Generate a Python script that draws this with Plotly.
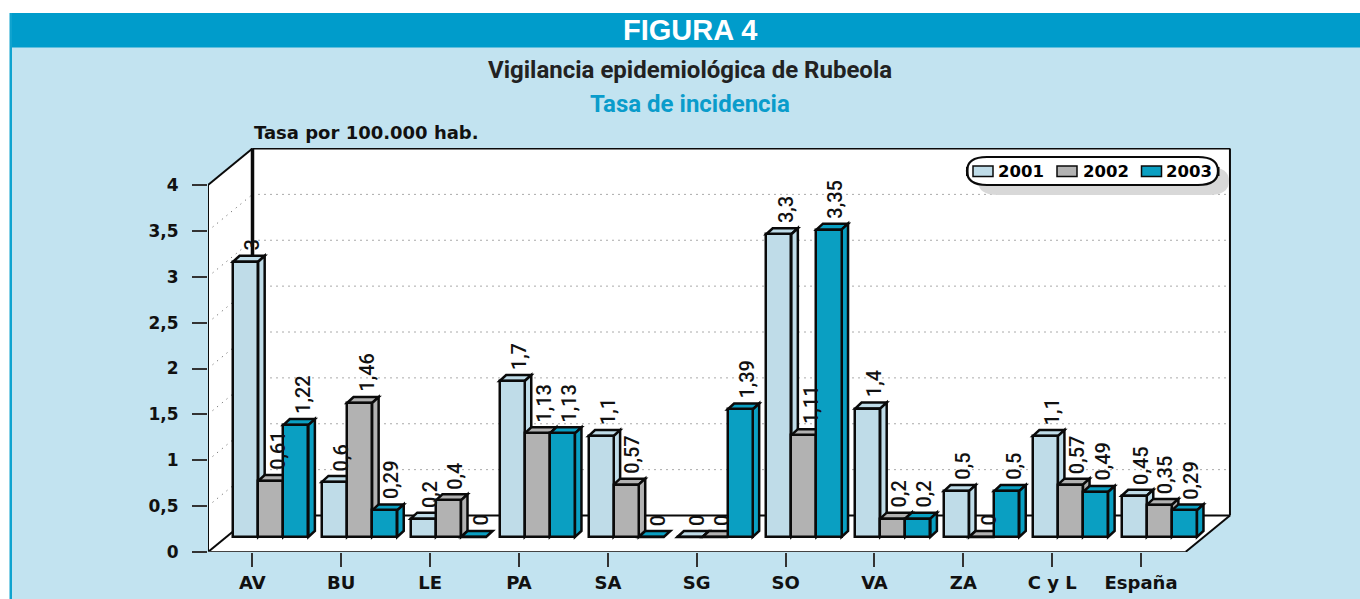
import plotly.graph_objects as go

categories = ["AV", "BU", "LE", "PA", "SA", "SG", "SO", "VA", "ZA", "C y L", "España"]
series_names = ["2001", "2002", "2003"]
v2001 = [3, 0.6, 0.2, 1.7, 1.1, 0, 3.3, 1.4, 0.5, 1.1, 0.45]
v2002 = [0.61, 1.46, 0.4, 1.13, 0.57, 0, 1.11, 0.2, 0, 0.57, 0.35]
v2003 = [1.22, 0.29, 0, 1.13, 0, 1.39, 3.35, 0.2, 0.5, 0.49, 0.29]
y_ticks = [0, 0.5, 1, 1.5, 2, 2.5, 3, 3.5, 4]
y_tick_labels = ["0", "0,5", "1", "1,5", "2", "2,5", "3", "3,5", "4"]
colors = ["#BFDCE8", "#B2B2B2", "#0A9FC2"]

W, H = 1360, 599
L, T, R, B = 208, 148, 1232, 552
PX_X, PX_Y = 88.86, 91.75


def xd(px):
    return -0.5 + (px - L) / PX_X


def yd(py):
    return (B - py) / PX_Y


def xp(px):
    return (px - L) / (R - L)


def yp(py):
    return (B - py) / (B - T)


WALL_DX, WALL_DY = 44.5 / PX_X, 36.5 / PX_Y
SHIFT_X, SHIFT_Y = 18.3 / PX_X, 15 / PX_Y
BAR_W = 25.1 / PX_X
DEPTH_X, DEPTH_Y = 6.5 / PX_X, 6 / PX_Y
X_MIN, X_MAX = -0.5, len(categories) - 0.5
INK = "#0A0A0A"
NUM_FONT = dict(family="Roboto, Liberation Sans, Arial", size=20, color="#111111", weight=500)
BOLD = "DejaVu Sans"
TITLE = "Roboto, Liberation Sans, Arial"


def poly(points, fill, lw=2.5, line=INK):
    path = "M " + " L ".join(f"{x:.4f},{y:.4f}" for x, y in points) + " Z"
    return dict(type="path", path=path, xref="x", yref="y", fillcolor=fill,
                line=dict(color=line, width=lw), layer="below")


def seg(x0, y0, x1, y1, color=INK, width=2, dash="solid"):
    return dict(type="line", x0=x0, y0=y0, x1=x1, y1=y1, xref="x", yref="y",
                line=dict(color=color, width=width, dash=dash), layer="below")


shapes = []
# page
shapes.append(dict(type="rect", xref="paper", yref="paper", x0=xp(10), x1=xp(W + 5), y0=yp(13), y1=yp(H + 5),
                   fillcolor="#C2E3F0", line_width=0, layer="below"))
shapes.append(dict(type="rect", xref="paper", yref="paper", x0=xp(10), x1=xp(W + 5), y0=yp(13), y1=yp(47.5),
                   fillcolor="#009CCB", line_width=0, layer="below"))
shapes.append(dict(type="rect", xref="paper", yref="paper", x0=xp(9.5), x1=xp(12), y0=yp(13), y1=yp(H + 5),
                   fillcolor="#0FA3CF", line_width=0, layer="below"))

# walls and floor
bx0, bx1 = X_MIN + WALL_DX, X_MAX + WALL_DX
shapes.append(poly([(X_MIN, 0), (X_MIN, 4), (bx0, 4 + WALL_DY), (bx1, 4 + WALL_DY), (bx1, WALL_DY),
                    (X_MAX, 0)], "#FFFFFF", lw=0))
for t in y_ticks[1:-1]:
    shapes.append(seg(X_MIN, t, bx0, t + WALL_DY, color="#555555", width=1, dash="1px,5px"))
    shapes.append(seg(bx0, t + WALL_DY, bx1, t + WALL_DY, color="#555555", width=1, dash="1px,5px"))
shapes.append(seg(bx0, WALL_DY, bx1, WALL_DY))
shapes.append(seg(bx1, WALL_DY, bx1, 4 + WALL_DY))
shapes.append(seg(bx0, 4 + WALL_DY, bx1, 4 + WALL_DY))
shapes.append(seg(bx0, WALL_DY, bx0, 4 + WALL_DY, width=3.5))
shapes.append(seg(X_MIN, 0, X_MIN, 4))
shapes.append(seg(X_MIN, 4, bx0, 4 + WALL_DY))
shapes.append(seg(X_MIN, 0, bx0, WALL_DY))
shapes.append(seg(X_MAX, 0, bx1, WALL_DY))
shapes.append(seg(X_MIN, 0, X_MAX, 0, color="#444444"))

all_values = [v2001, v2002, v2003]
traces = []
annotations = []
for j, vals in enumerate(all_values):
    xs = [i + SHIFT_X + (j - 1) * BAR_W for i in range(len(categories))]
    for xc, v in zip(xs, vals):
        xl, xr = xc - BAR_W / 2, xc + BAR_W / 2
        top = SHIFT_Y + v
        shapes.append(poly([(xl, top), (xl + DEPTH_X, top + DEPTH_Y), (xr + DEPTH_X, top + DEPTH_Y), (xr, top)],
                           colors[j]))
        if v > 0:
            shapes.append(poly([(xr, top), (xr + DEPTH_X, top + DEPTH_Y), (xr + DEPTH_X, SHIFT_Y + DEPTH_Y),
                                (xr, SHIFT_Y)], colors[j]))
        annotations.append(dict(x=xc + DEPTH_X, y=top + DEPTH_Y, xref="x", yref="y", text=str(v).replace(".", ","),
                                textangle=-90, showarrow=False, xanchor="center", yanchor="bottom", yshift=4,
                                font=NUM_FONT, borderpad=0))
    traces.append(go.Bar(x=xs, y=vals, base=[SHIFT_Y] * len(vals), width=BAR_W, name=series_names[j],
                         marker=dict(color=colors[j], line=dict(color=INK, width=2.5)), showlegend=False,
                         cliponaxis=False))

# legend
LEG_X0, LEG_X1, LEG_Y0, LEG_Y1 = 967, 1218, 157, 185


def pill(dx, dy, fill, lw, line):
    x0, x1, y0, y1 = xd(LEG_X0 + dx), xd(LEG_X1 + dx), yd(LEG_Y0 + dy), yd(LEG_Y1 + dy)
    rx = 20 / PX_X
    ym = (y0 + y1) / 2
    path = (f"M {x0 + rx:.4f},{y0:.4f} L {x1 - rx:.4f},{y0:.4f} Q {x1:.4f},{y0:.4f} {x1:.4f},{ym:.4f} "
            f"Q {x1:.4f},{y1:.4f} {x1 - rx:.4f},{y1:.4f} L {x0 + rx:.4f},{y1:.4f} "
            f"Q {x0:.4f},{y1:.4f} {x0:.4f},{ym:.4f} Q {x0:.4f},{y0:.4f} {x0 + rx:.4f},{y0:.4f} Z")
    return dict(type="path", path=path, xref="x", yref="y", fillcolor=fill, line=dict(color=line, width=lw),
                layer="below")


shapes.append(pill(11, 10, "#D8D8D8", 0, "#D8D8D8"))
shapes.append(pill(0, 0, "#FFFFFF", 2.2, INK))
shapes.append(dict(type="rect", xref="x", yref="y", x0=xd(966), x1=xd(968.5), y0=yd(167), y1=yd(176),
                   fillcolor=INK, line_width=0, layer="below"))
shapes.append(dict(type="rect", xref="x", yref="y", x0=xd(1217), x1=xd(1219.5), y0=yd(167), y1=yd(176),
                   fillcolor=INK, line_width=0, layer="below"))
for name, color, kx, tx in zip(series_names, colors, [973, 1057, 1141.5], [997, 1082, 1165]):
    shapes.append(dict(type="rect", xref="x", yref="y", x0=xd(kx), x1=xd(kx + 20), y0=yd(166), y1=yd(176.5),
                       fillcolor=color, line=dict(color=INK, width=1.5), layer="below"))
    annotations.append(dict(x=xd(tx), y=yd(171.5), xref="x", yref="y", text=f"<b>{name}</b>", showarrow=False,
                            xanchor="left", yanchor="middle", borderpad=0,
                            font=dict(family=BOLD, size=16.5, color="#000000")))


def page_text(px, py, text, family, size, color, xanchor="center"):
    return dict(x=xp(px), y=yp(py), xref="paper", yref="paper", text=f"<b>{text}</b>", showarrow=False,
                xanchor=xanchor, yanchor="middle", font=dict(family=family, size=size, color=color), borderpad=0)


annotations.append(page_text(690, 30, "FIGURA 4", "Liberation Sans, Arial", 29, "#FFFFFF"))
annotations.append(page_text(690, 70, "Vigilancia epidemiológica de Rubeola", TITLE, 24, "#222222"))
annotations.append(page_text(690, 104, "Tasa de incidencia", TITLE, 24, "#0A9CCB"))
annotations.append(page_text(253, 132, "Tasa por 100.000 hab.", BOLD, 18, "#111111", xanchor="left"))

fig = go.Figure(traces)
fig.update_layout(
    width=W, height=H, autosize=False,
    margin=dict(l=L, r=W - R, t=T, b=H - B, pad=0, autoexpand=False),
    paper_bgcolor="#FFFFFF", plot_bgcolor="rgba(0,0,0,0)",
    barmode="overlay", bargap=0, showlegend=False,
    shapes=shapes, annotations=annotations,
    xaxis=dict(range=[X_MIN, X_MIN + (R - L) / PX_X], tickmode="array", tickvals=list(range(len(categories))),
               ticktext=[f"<b>{c}</b>" for c in categories], ticks="outside", ticklen=14, tickwidth=1.5,
               tickcolor="#333333", showgrid=False, zeroline=False, showline=False, automargin=False,
               ticklabelstandoff=0, tickfont=dict(family=BOLD, size=18, color="#111111")),
    yaxis=dict(range=[0, (B - T) / PX_Y], tickmode="array", tickvals=y_ticks,
               ticktext=[f"<b>{t}</b>" for t in y_tick_labels], ticks="outside", ticklen=15, tickwidth=1.5,
               tickcolor="#333333", showgrid=False, zeroline=False, showline=False, automargin=False,
               ticklabelstandoff=10, tickfont=dict(family=BOLD, size=17, color="#111111")),
)
fig.write_html("out.html", post_script="document.body.style.margin='0';", config=dict(displayModeBar=False))
